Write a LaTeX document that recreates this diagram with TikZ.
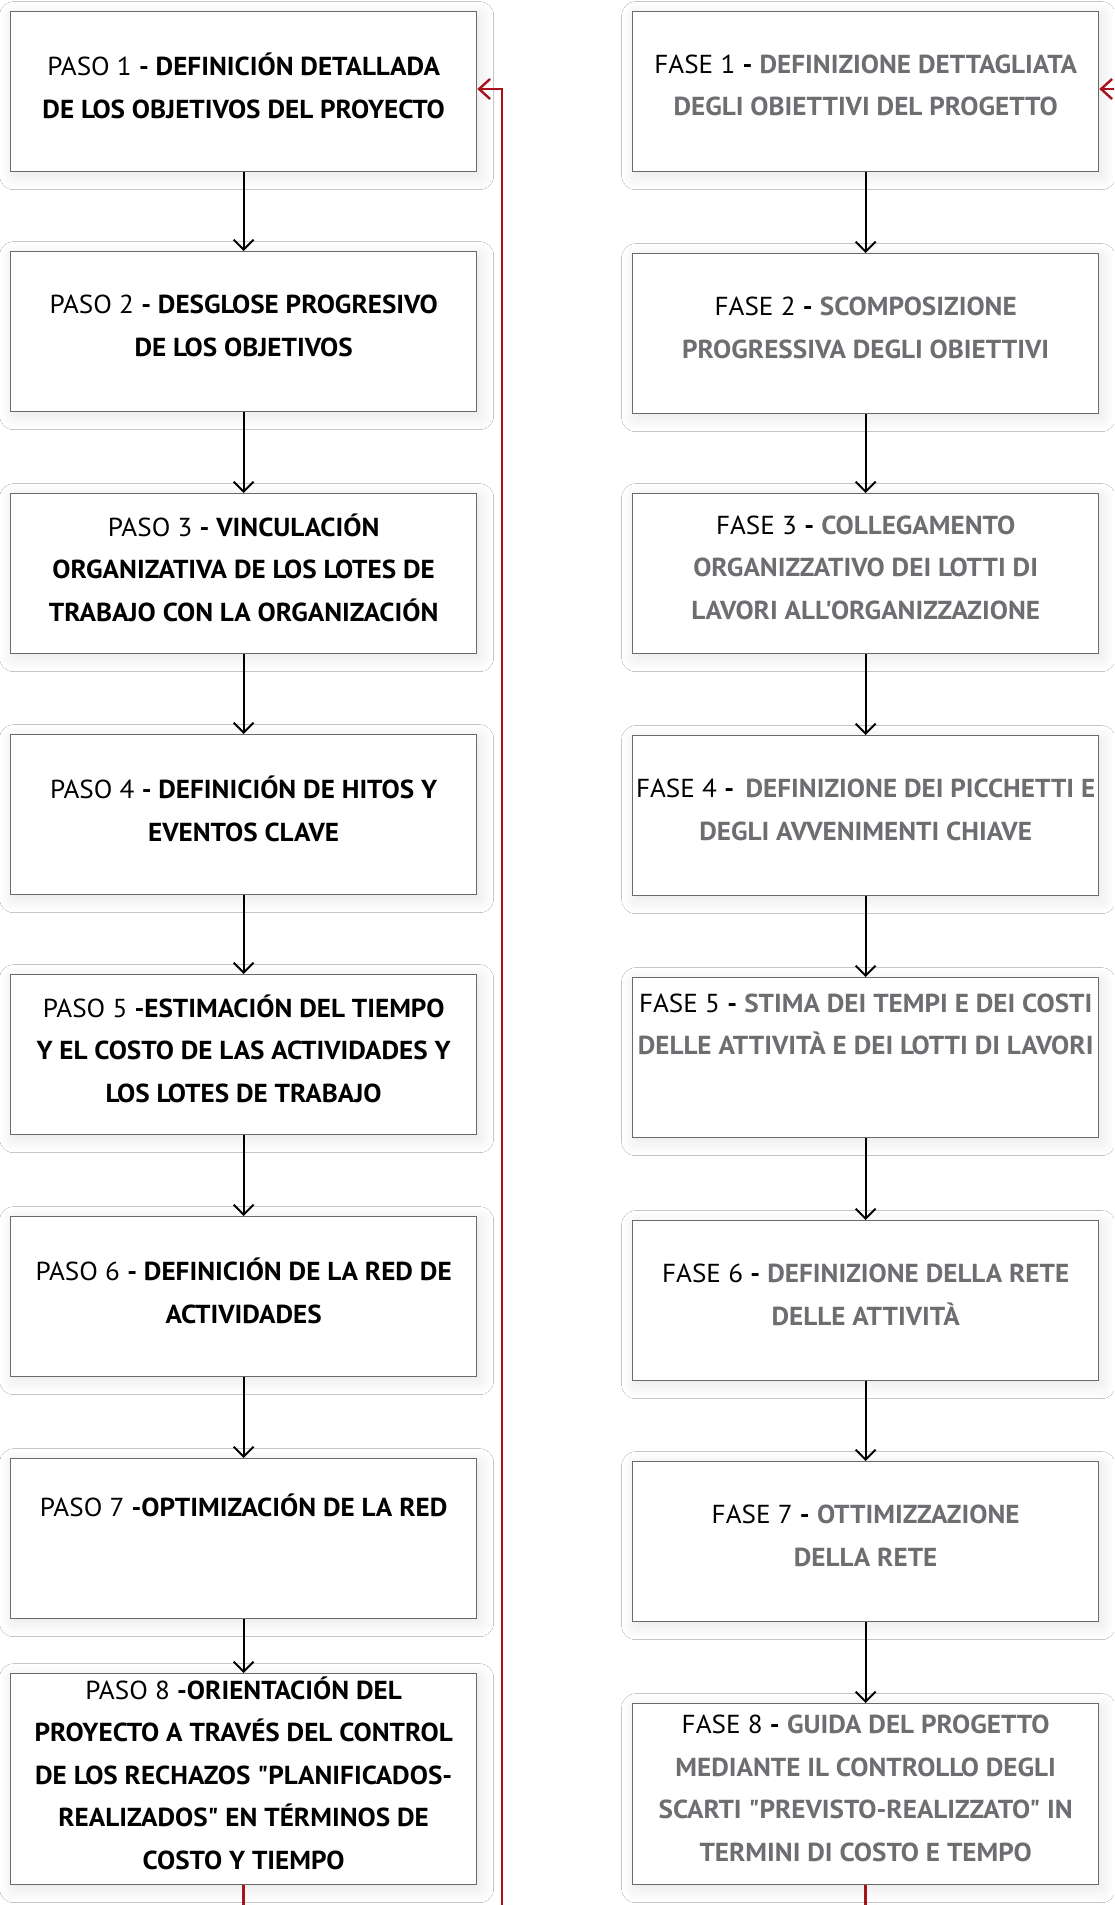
\documentclass[tikz,border=0pt]{standalone}
\usepackage{fontspec}
\setmainfont{PT Sans}[Ligatures=TeXOff, FakeStretch=1.045]
\usetikzlibrary{arrows.meta,shadows.blur}
\definecolor{boxgray}{HTML}{6A6A6A}
\definecolor{itgray}{HTML}{6D6E71}
\definecolor{loopred}{HTML}{A8121C}
\newcommand\itb[1]{\textbf{\textcolor{itgray}{#1}}}
\begin{document}
\begin{tikzpicture}[x=1pt,y=-1pt,
  stepbox/.style={draw=boxgray, line width=1.3pt, fill=white, minimum width=466pt,
    minimum height=160pt, anchor=north west, inner sep=0pt,
    blur shadow={shadow xshift=3pt, shadow yshift=-4pt, shadow blur radius=14pt, shadow blur steps=14, shadow opacity=10}},
  steptext/.style={align=center, inner sep=0pt, font=\fontsize{26}{42.5}\selectfont, yshift=6pt},
  flow/.style={draw=black, line width=1.9pt, -{Straight Barb[length=10pt,width=20pt]}},
  back/.style={draw=loopred, line width=2.4pt, -{Straight Barb[length=11pt,width=20pt]}}
]
\useasboundingbox (0,0) rectangle (1114,1905);
\fill[white] (0,0) rectangle (1114,1905);
\clip (0,0) rectangle (1114,1905);

% Boxes
\node[stepbox] (L1) at (10,11) {};
\node[stepbox] (L2) at (10,251) {};
\node[stepbox] (L3) at (10,493) {};
\node[stepbox] (L4) at (10,734) {};
\node[stepbox] (L5) at (10,974) {};
\node[stepbox] (L6) at (10,1216) {};
\node[stepbox] (L7) at (10,1458) {};
\node[stepbox, minimum height=211pt] (L8) at (10,1673) {};
\node[stepbox] (R1) at (632,11) {};
\node[stepbox] (R2) at (632,253) {};
\node[stepbox] (R3) at (632,493) {};
\node[stepbox] (R4) at (632,735) {};
\node[stepbox] (R5) at (632,977) {};
\node[stepbox] (R6) at (632,1220) {};
\node[stepbox] (R7) at (632,1461) {};
\node[stepbox, minimum height=181pt] (R8) at (632,1703) {};

% Left column texts (Spanish)
\node[steptext] (L1t) at (L1.center) {PASO 1 \textbf{- DEFINICIÓN DETALLADA}\\\textbf{DE LOS OBJETIVOS DEL PROYECTO}};
\node[steptext] (L2t) at (L2.center) {PASO 2 \textbf{- DESGLOSE PROGRESIVO}\\\textbf{DE LOS OBJETIVOS}};
\node[steptext] (L3t) at (L3.center) {PASO 3 \textbf{- VINCULACIÓN}\\\textbf{ORGANIZATIVA DE LOS LOTES DE}\\\textbf{TRABAJO CON LA ORGANIZACIÓN}};
\node[steptext] (L4t) at (L4.center) {PASO 4 \textbf{- DEFINICIÓN DE HITOS Y}\\\textbf{EVENTOS CLAVE}};
\node[steptext] (L5t) at (L5.center) {PASO 5 \textbf{-ESTIMACIÓN DEL TIEMPO}\\\textbf{Y EL COSTO DE LAS ACTIVIDADES Y}\\\textbf{LOS LOTES DE TRABAJO}};
\node[steptext] (L6t) at (L6.center) {PASO 6 \textbf{- DEFINICIÓN DE LA RED DE}\\\textbf{ACTIVIDADES}};
\node[steptext] (L7t) at (L7.center) {PASO 7 \textbf{-OPTIMIZACIÓN DE LA RED}\\\strut};
\node[steptext] (L8t) at (L8.center) {PASO 8 \textbf{-ORIENTACIÓN DEL}\\\textbf{PROYECTO A TRAVÉS DEL CONTROL}\\\textbf{DE LOS RECHAZOS "PLANIFICADOS-}\\\textbf{REALIZADOS" EN TÉRMINOS DE}\\\textbf{COSTO Y TIEMPO}};

% Right column texts (Italian)
\node[steptext] (R1t) at (R1.center) {FASE 1 \textbf{-} \itb{DEFINIZIONE DETTAGLIATA}\\\itb{DEGLI OBIETTIVI DEL PROGETTO}};
\node[steptext] (R2t) at (R2.center) {FASE 2 \textbf{-} \itb{SCOMPOSIZIONE}\\\itb{PROGRESSIVA DEGLI OBIETTIVI}};
\node[steptext] (R3t) at (R3.center) {FASE 3 \textbf{-} \itb{COLLEGAMENTO}\\\itb{ORGANIZZATIVO DEI LOTTI DI}\\\itb{LAVORI ALL'ORGANIZZAZIONE}};
\node[steptext] (R4t) at (R4.center) {FASE 4 \textbf{-}\, \itb{DEFINIZIONE DEI PICCHETTI E}\\\itb{DEGLI AVVENIMENTI CHIAVE}};
\node[steptext] (R5t) at (R5.center) {FASE 5 \textbf{-} \itb{STIMA DEI TEMPI E DEI COSTI}\\\itb{DELLE ATTIVITÀ E DEI LOTTI DI LAVORI}\\\strut};
\node[steptext] (R6t) at (R6.center) {FASE 6 \textbf{-} \itb{DEFINIZIONE DELLA RETE}\\\itb{DELLE ATTIVITÀ}};
\node[steptext] (R7t) at (R7.center) {FASE 7 \textbf{-} \itb{OTTIMIZZAZIONE}\\\itb{DELLA RETE}};
\node[steptext] (R8t) at (R8.center) {FASE 8 \textbf{-} \itb{GUIDA DEL PROGETTO}\\\itb{MEDIANTE IL CONTROLLO DEGLI}\\\itb{SCARTI "PREVISTO-REALIZZATO" IN}\\\itb{TERMINI DI COSTO E TEMPO}};

% Flow arrows
\foreach \a/\b in {L1/L2,L2/L3,L3/L4,L4/L5,L5/L6,L6/L7,L7/L8,R1/R2,R2/R3,R3/R4,R4/R5,R5/R6,R6/R7,R7/R8}
  \draw[flow] (\a.south) -- (\b.north);

% Feedback loops
\coordinate (lturn) at (502,89);
\coordinate (rturn) at (1140,89);
\draw[back] (L8.south) -- ++(0,60) -| (lturn) -- (L1.east |- lturn);
\draw[back] (R8.south) -- ++(0,60) -| (rturn) -- (R1.east |- rturn);
\end{tikzpicture}
\end{document}
